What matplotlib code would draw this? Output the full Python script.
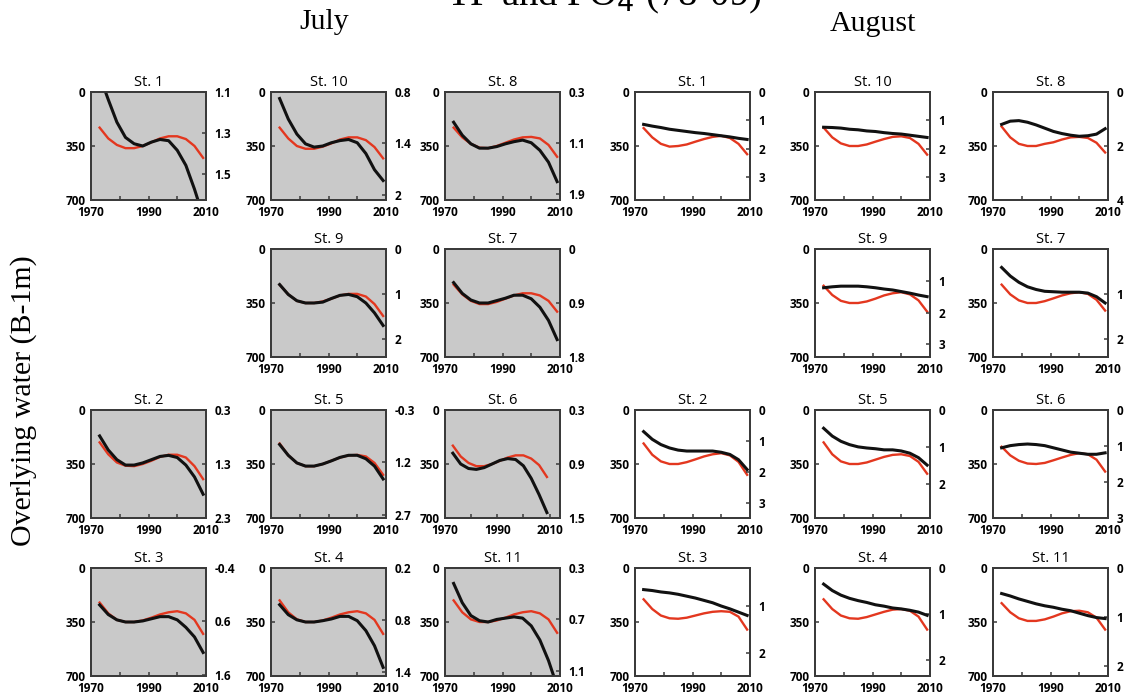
import matplotlib
matplotlib.use("Agg")
import matplotlib.pyplot as plt

# ---- données ----
years = [1973, 1976, 1979, 1982, 1985, 1988, 1991, 1994, 1997, 2000, 2003, 2006, 2009]

# courbe rouge : axe gauche (0-700) ; courbe noire : axe droit (unités propres à chaque station)
red_jul_st1 = [231, 301, 343, 364, 364, 350, 326, 301, 287, 287, 305, 350, 427]
blk_jul_st1 = [1.02, 1.137, 1.248, 1.323, 1.354, 1.365, 1.346, 1.333, 1.339, 1.386, 1.46, 1.577, 1.71]
red_jul_st10 = [231, 301, 350, 368, 368, 354, 333, 308, 294, 294, 312, 357, 430]
blk_jul_st10 = [0.876, 1.115, 1.291, 1.405, 1.443, 1.43, 1.392, 1.367, 1.354, 1.392, 1.518, 1.707, 1.833]
red_jul_st8 = [231, 294, 336, 361, 364, 350, 329, 308, 294, 291, 301, 343, 420]
blk_jul_st8 = [0.776, 0.98, 1.116, 1.184, 1.184, 1.159, 1.116, 1.082, 1.057, 1.099, 1.218, 1.405, 1.711]
red_jul_st9 = [231, 294, 336, 350, 350, 340, 322, 301, 291, 291, 308, 357, 434]
blk_jul_st9 = [0.79, 1.01, 1.15, 1.20, 1.20, 1.18, 1.10, 1.03, 1.01, 1.06, 1.20, 1.42, 1.70]
red_jul_st7 = [231, 294, 336, 357, 357, 343, 322, 301, 287, 287, 301, 336, 406]
blk_jul_st7 = [0.56, 0.74, 0.85, 0.90, 0.90, 0.86, 0.82, 0.77, 0.77, 0.83, 0.97, 1.19, 1.51]
red_jul_st2 = [210, 287, 340, 361, 364, 350, 329, 304, 290, 290, 308, 364, 448]
blk_jul_st2 = [0.78, 1.04, 1.22, 1.32, 1.32, 1.28, 1.22, 1.16, 1.14, 1.18, 1.32, 1.54, 1.86]
red_jul_st5 = [217, 294, 343, 364, 364, 350, 329, 308, 294, 291, 301, 343, 420]
blk_jul_st5 = [0.69, 1.0, 1.22, 1.31, 1.31, 1.25, 1.16, 1.06, 1.0, 1.0, 1.10, 1.31, 1.68]
red_jul_st6 = [231, 301, 343, 364, 364, 350, 329, 308, 294, 294, 315, 357, 434]
blk_jul_st6 = [0.78, 0.90, 0.95, 0.96, 0.94, 0.90, 0.86, 0.84, 0.85, 0.92, 1.06, 1.24, 1.44]
red_jul_st3 = [224, 294, 336, 350, 350, 340, 322, 301, 287, 280, 294, 336, 427]
blk_jul_st3 = [0.29, 0.47, 0.57, 0.61, 0.61, 0.59, 0.55, 0.51, 0.51, 0.57, 0.71, 0.89, 1.18]
red_jul_st4 = [210, 287, 333, 350, 350, 340, 322, 301, 287, 280, 294, 336, 427]
blk_jul_st4 = [0.625, 0.74, 0.80, 0.825, 0.825, 0.81, 0.79, 0.76, 0.76, 0.81, 0.925, 1.10, 1.35]
red_jul_st11 = [210, 287, 333, 350, 350, 340, 322, 301, 287, 280, 294, 333, 420]
blk_jul_st11 = [0.42, 0.57, 0.67, 0.71, 0.72, 0.70, 0.69, 0.68, 0.69, 0.75, 0.86, 1.02, 1.22]

red_aug_st1 = [234, 294, 336, 354, 350, 340, 322, 305, 291, 284, 298, 336, 403]
blk_aug_st1 = [1.14, 1.20, 1.25, 1.31, 1.35, 1.39, 1.43, 1.46, 1.50, 1.54, 1.58, 1.63, 1.67]
red_aug_st10 = [231, 294, 333, 350, 350, 340, 322, 305, 291, 287, 298, 336, 406]
blk_aug_st10 = [1.24, 1.25, 1.27, 1.31, 1.33, 1.37, 1.39, 1.43, 1.46, 1.48, 1.52, 1.56, 1.60]
red_aug_st8 = [224, 294, 336, 350, 350, 336, 326, 308, 294, 291, 298, 329, 392]
blk_aug_st8 = [1.2, 1.08, 1.06, 1.12, 1.22, 1.34, 1.46, 1.54, 1.60, 1.64, 1.62, 1.56, 1.36]
red_aug_st9 = [238, 298, 336, 350, 350, 340, 322, 301, 287, 280, 294, 333, 406]
blk_aug_st9 = [1.22, 1.19, 1.17, 1.17, 1.17, 1.19, 1.22, 1.26, 1.29, 1.34, 1.39, 1.45, 1.50]
red_aug_st7 = [231, 294, 333, 350, 350, 338, 320, 301, 287, 280, 291, 329, 399]
blk_aug_st7 = [0.41, 0.60, 0.74, 0.84, 0.90, 0.94, 0.95, 0.96, 0.96, 0.96, 0.98, 1.06, 1.20]
red_aug_st2 = [217, 290, 333, 350, 350, 338, 320, 301, 287, 280, 294, 336, 420]
blk_aug_st2 = [0.70, 0.95, 1.12, 1.23, 1.30, 1.33, 1.33, 1.33, 1.33, 1.37, 1.44, 1.61, 1.93]
red_aug_st5 = [210, 287, 333, 350, 350, 340, 322, 304, 291, 287, 298, 336, 413]
blk_aug_st5 = [0.49, 0.70, 0.84, 0.93, 0.99, 1.02, 1.04, 1.07, 1.07, 1.10, 1.16, 1.28, 1.48]
red_aug_st6 = [238, 294, 329, 347, 350, 343, 326, 308, 291, 280, 287, 322, 399]
blk_aug_st6 = [1.05, 0.99, 0.96, 0.945, 0.96, 0.99, 1.05, 1.11, 1.17, 1.20, 1.23, 1.23, 1.19]
red_aug_st3 = [203, 266, 308, 326, 329, 322, 308, 294, 284, 280, 284, 315, 399]
blk_aug_st3 = [0.66, 0.68, 0.71, 0.73, 0.76, 0.80, 0.84, 0.89, 0.94, 1.01, 1.07, 1.14, 1.21]
red_aug_st4 = [203, 266, 308, 326, 329, 318, 301, 284, 270, 266, 277, 315, 399]
blk_aug_st4 = [0.35, 0.49, 0.59, 0.66, 0.71, 0.75, 0.80, 0.83, 0.87, 0.89, 0.92, 0.96, 1.03]
red_aug_st11 = [228, 287, 326, 343, 343, 333, 315, 294, 280, 277, 287, 322, 399]
blk_aug_st11 = [0.52, 0.57, 0.63, 0.68, 0.73, 0.77, 0.80, 0.84, 0.87, 0.92, 0.97, 1.01, 1.03]

left_ticks = [0, 350, 700]
x_ticks = [1970, 1980, 1990, 2000, 2010]
x_labels = ["1970", "", "1990", "", "2010"]

# (titre, rouge, noir, limites droite (haut, bas), graduations droite, étiquettes, ligne, colonne, fond gris, xmax)
panels = [
    ("St. 1", red_jul_st1, blk_jul_st1, (1.1, 1.63), [1.1, 1.3, 1.5], ["1.1", "1.3", "1.5"], 0, 0, True, 2010),
    ("St. 10", red_jul_st10, blk_jul_st10, (0.8, 2.06), [0.8, 1.4, 2.0], ["0.8", "1.4", "2"], 0, 1, True, 2010),
    ("St. 8", red_jul_st8, blk_jul_st8, (0.3, 2.0), [0.3, 1.1, 1.9], ["0.3", "1.1", "1.9"], 0, 2, True, 2010),
    ("St. 1", red_aug_st1, blk_aug_st1, (0, 3.8), [0, 1, 2, 3], ["0", "1", "2", "3"], 0, 3, False, 2010),
    ("St. 10", red_aug_st10, blk_aug_st10, (0, 3.8), [1, 2, 3], ["1", "2", "3"], 0, 4, False, 2010),
    ("St. 8", red_aug_st8, blk_aug_st8, (0, 4), [0, 2, 4], ["0", "2", "4"], 0, 5, False, 2010),
    ("St. 9", red_jul_st9, blk_jul_st9, (0, 2.4), [0, 1, 2], ["0", "1", "2"], 1, 1, True, 2010),
    ("St. 7", red_jul_st7, blk_jul_st7, (0, 1.8), [0, 0.9, 1.8], ["0", "0.9", "1.8"], 1, 2, True, 2010),
    ("St. 9", red_aug_st9, blk_aug_st9, (0, 3.4), [1, 2, 3], ["1", "2", "3"], 1, 4, False, 2010),
    ("St. 7", red_aug_st7, blk_aug_st7, (0, 2.4), [1, 2], ["1", "2"], 1, 5, False, 2010),
    ("St. 2", red_jul_st2, blk_jul_st2, (0.3, 2.3), [0.3, 1.3, 2.3], ["0.3", "1.3", "2.3"], 2, 0, True, 2010),
    ("St. 5", red_jul_st5, blk_jul_st5, (-0.3, 2.8), [-0.3, 1.2, 2.7], ["-0.3", "1.2", "2.7"], 2, 1, True, 2010),
    ("St. 6", red_jul_st6, blk_jul_st6, (0.3, 1.5), [0.3, 0.9, 1.5], ["0.3", "0.9", "1.5"], 2, 2, True, 2014),
    ("St. 2", red_aug_st2, blk_aug_st2, (0, 3.5), [0, 1, 2, 3], ["0", "1", "2", "3"], 2, 3, False, 2010),
    ("St. 5", red_aug_st5, blk_aug_st5, (0, 2.9), [0, 1, 2], ["0", "1", "2"], 2, 4, False, 2010),
    ("St. 6", red_aug_st6, blk_aug_st6, (0, 3), [0, 1, 2, 3], ["0", "1", "2", "3"], 2, 5, False, 2010),
    ("St. 3", red_jul_st3, blk_jul_st3, (-0.4, 1.62), [-0.4, 0.6, 1.6], ["-0.4", "0.6", "1.6"], 3, 0, True, 2010),
    ("St. 4", red_jul_st4, blk_jul_st4, (0.2, 1.45), [0.2, 0.8, 1.4], ["0.2", "0.8", "1.4"], 3, 1, True, 2010),
    ("St. 11", red_jul_st11, blk_jul_st11, (0.3, 1.14), [0.3, 0.7, 1.1], ["0.3", "0.7", "1.1"], 3, 2, True, 2010),
    ("St. 3", red_aug_st3, blk_aug_st3, (0.2, 2.5), [1, 2], ["1", "2"], 3, 3, False, 2010),
    ("St. 4", red_aug_st4, blk_aug_st4, (0, 2.35), [0, 1, 2], ["0", "1", "2"], 3, 4, False, 2010),
    ("St. 11", red_aug_st11, blk_aug_st11, (0, 2.2), [0, 1, 2], ["0", "1", "2"], 3, 5, False, 2010),
]

# ---- mise en page (pixels) ----
W, H = 1129, 700
col_x = [91, 271, 445, 635, 815, 993]
row_y = [92, 249, 410, 568]
pw, ph = 115, 108

tick_font = dict(family="Open Sans", size=8.5, weight="bold")
spine_col = "#3a3a3a"

fig = plt.figure(figsize=(W / 100, H / 100), dpi=100)

for title, red, blk, rlim, rt, rl, r, c, shaded, xmax in panels:
    x0, y0 = col_x[c], row_y[r]
    ax = fig.add_axes([x0 / W, 1 - (y0 + ph) / H, pw / W, ph / H])
    ax.set_facecolor("#c9c9c9" if shaded else "white")
    ax.plot(years, red, color="#e3371f", lw=1.7)
    ax.set_xlim(1970, xmax)
    ax.set_ylim(700, 0)
    ax.set_yticks(left_ticks)
    ax.set_yticklabels([str(v) for v in left_ticks], fontdict=tick_font)
    ax.set_xticks(x_ticks)
    ax.set_xticklabels(x_labels, fontdict=tick_font)
    ax.tick_params(direction="in", length=3, width=1.1, color=spine_col, pad=4)
    ax.set_title(title, family="Open Sans", fontsize=10.5, pad=4)

    ax2 = ax.twinx()
    ax2.plot(years, blk, color="#111111", lw=2.2)
    ax2.set_ylim(rlim[1], rlim[0])
    ax2.set_yticks(rt)
    ax2.set_yticklabels(rl, fontdict=tick_font)
    ax2.tick_params(direction="in", length=3, width=1.1, color=spine_col, pad=6)
    for a in (ax, ax2):
        for s in a.spines.values():
            s.set_color(spine_col)
            s.set_linewidth(1.3)

serif = "Liberation Serif"
fig.text(324 / W, 1 - 22 / H, "July", family=serif, fontsize=21.5, ha="center", va="center")
fig.text(873 / W, 1 - 24 / H, "August", family=serif, fontsize=21.5, ha="center", va="center")
fig.text(762 / W, 1 - 5 / H, "TP and PO$_4$ (78-09)", family=serif, fontsize=28,
         ha="right", va="baseline")
fig.text(24 / W, 1 - 401 / H, "Overlying water (B-1m)", family=serif, fontsize=21.5,
         rotation=90, ha="center", va="center")

fig.savefig("out.png", dpi=100)
